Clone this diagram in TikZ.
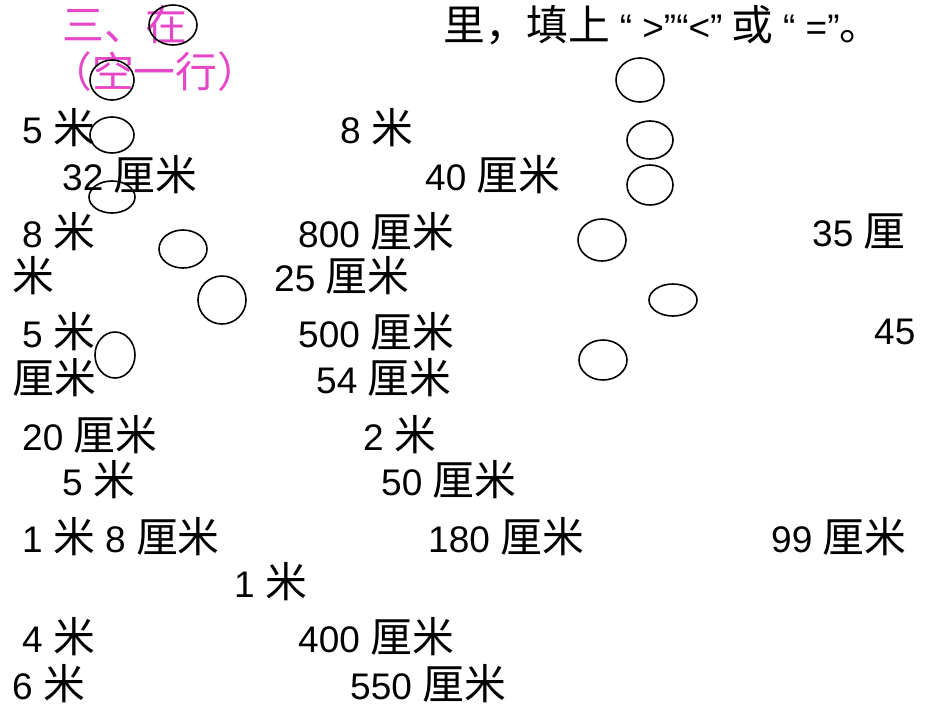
\documentclass[tikz,border=0pt]{standalone}
\usepackage{fontspec}
\setmainfont{Liberation Sans}
\newfontfamily\cjk[Scale=1.13]{Noto Sans CJK SC}
\definecolor{pk}{RGB}{230,70,200}
\begin{document}
\begin{tikzpicture}[x=1pt,y=-1pt,
  t/.style={anchor=west,inner sep=0pt,font=\fontsize{37}{37}\selectfont},
  c/.style={draw,line width=1.6pt}]
\useasboundingbox (0,0) rectangle (950,713);
\fill[white] (0,0) rectangle (950,713);
\newcommand\M{{\cjk 米}}
\newcommand\LM{{\cjk 厘米}}
\node[t,text=pk] (h1) at (62,25) {\cjk 三、在};
\node[t] (h2) at (443,25) {\cjk 里，填上\ {\rmfamily “ >”“<”}\ 或\ {\rmfamily “ =”}。};
\node[t,text=pk] (h3) at (50,72) {\cjk （空一行）};
\node[t] (a1) at (22,128) {5 \M};
\node[t] (a2) at (340,128) {8 \M};
\node[t] (b1) at (62,175) {32 \LM};
\node[t] (b2) at (425,175) {40 \LM};
\node[t] (c1) at (22,232) {8 \M};
\node[t] (c2) at (298,232) {800 \LM};
\node[t] (c3) at (812,232) {35 {\cjk 厘}};
\node[t] (d1) at (12,276) {\M};
\node[t] (d2) at (274,276) {25 \LM};
\node[t] (e1) at (22,332) {5 \M};
\node[t] (e2) at (298,332) {500 \LM};
\node[t] (e3) at (874,332) {45};
\node[t] (f1) at (12,378) {\LM};
\node[t] (f2) at (316,378) {54 \LM};
\node[t] (g1) at (22,435) {20 \LM};
\node[t] (g2) at (363,435) {2 \M};
\node[t] (h4) at (62,480) {5 \M};
\node[t] (h5) at (381,480) {50 \LM};
\node[t] (i1) at (22,537) {1 \M\ 8 \LM};
\node[t] (i2) at (428,537) {180 \LM};
\node[t] (i3) at (771,537) {99 \LM};
\node[t] (j1) at (234,582) {1 \M};
\node[t] (k1) at (22,637) {4 \M};
\node[t] (k2) at (298,637) {400 \LM};
\node[t] (l1) at (12,684) {6 \M};
\node[t] (l2) at (350,684) {550 \LM};
\draw[c] (173,25) ellipse [x radius=24,y radius=20];
\draw[c] (112,80) ellipse [x radius=22,y radius=20];
\draw[c] (640,80) ellipse [x radius=24,y radius=22];
\draw[c] (112,135) ellipse [x radius=22,y radius=18];
\draw[c] (650,140) ellipse [x radius=23,y radius=19];
\draw[c] (112,197) ellipse [x radius=23,y radius=16];
\draw[c] (650,185) ellipse [x radius=23,y radius=20];
\draw[c] (183,249) ellipse [x radius=24,y radius=19];
\draw[c] (602,240) ellipse [x radius=24,y radius=21];
\draw[c] (222,300) ellipse [x radius=24,y radius=24];
\draw[c] (673,300) ellipse [x radius=24,y radius=16];
\draw[c] (115,355) ellipse [x radius=20,y radius=23];
\draw[c] (603,360) ellipse [x radius=24,y radius=20];
\end{tikzpicture}
\end{document}
